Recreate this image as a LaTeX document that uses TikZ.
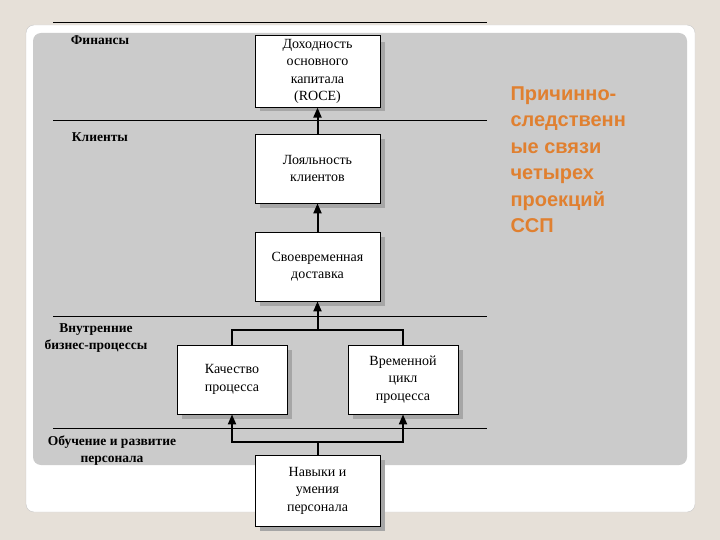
\documentclass[tikz,border=0pt]{standalone}
\usepackage{fontspec}
\setmainfont{Liberation Serif}
\newfontfamily\ttl{Liberation Sans}
\usetikzlibrary{arrows.meta}
\begin{document}
\begin{tikzpicture}[x=1pt,y=-1pt,
 bx/.style={draw=black,line width=0.8pt,fill=white,minimum width=125pt,minimum height=69pt,align=center,font=\fontsize{14}{17.5}\selectfont},
 lab/.style={font=\bfseries\fontsize{13.5}{17}\selectfont,align=center},
 ln/.style={line width=0.9pt},
 cn/.style={line width=2pt},
 ar/.style={line width=2pt,-{Triangle[length=10pt,width=8pt]}}]
\fill[fill={rgb,255:red,230;green,224;blue,216}] (0,0) rectangle (720,540);
\useasboundingbox (0,0) rectangle (720,540);
\fill[white,draw={rgb,255:red,200;green,200;blue,200}, rounded corners=8pt] (26,25) rectangle (695,512);
\fill[fill={rgb,255:red,203;green,203;blue,203}, rounded corners=8pt] (33,33) rectangle (687,465);
\foreach \yy in {22,120,316,428} \draw[ln] (53,\yy) -- (487,\yy);
\foreach \a/\b/\c/\d in {255/37/380/106,255/134/380/203,255/232/380/301,177/345/287/414,348/345/458/414,255/455/380/526}
 \fill[gray!70] (\a+5,\b+5) rectangle (\c+5,\d+5);
\node[bx] (b1) at (317.5,71.5) {Доходность\\основного\\капитала\\(ROCE)};
\node[bx] (b2) at (317.5,168.5) {Лояльность\\клиентов};
\node[bx] (b3) at (317.5,266.5) {Своевременная\\доставка};
\node[bx,minimum width=110pt] (b4) at (232,379.5) {Качество\\процесса};
\node[bx,minimum width=110pt] (b5) at (403,379.5) {Временной\\цикл\\процесса};
\node[bx,minimum height=71pt] (b6) at (317.5,490.5) {Навыки и\\умения\\персонала};
\draw[ar] (b2.north) -- (b1.south);
\draw[ar] (b3.north) -- (b2.south);
\coordinate (m1) at (317.5,330);
\coordinate (m2) at (317.5,442);
\draw[cn] (b4.north) |- (m1) -| (b5.north);
\draw[ar] (m1) -- (b3.south);
\draw[cn] (b6.north) -- (m2);
\draw[ar] (m2) -| (b4.south);
\draw[ar] (m2) -| (b5.south);
\node[lab] (l1) at (100,40) {Финансы};
\node[lab] (l2) at (100,137) {Клиенты};
\node[lab] (l3) at (96,338) {Внутренние\\бизнес-процессы};
\node[lab] (l4) at (112,451) {Обучение и развитие\\персонала};
\node[anchor=north west,align=left,text={rgb,255:red,224;green,128;blue,48},font=\ttl\bfseries\fontsize{20}{26.5}\selectfont] (t) at (507,83) {Причинно-\\следственн\\ые связи\\четырех\\проекций\\ССП};
\end{tikzpicture}
\end{document}
